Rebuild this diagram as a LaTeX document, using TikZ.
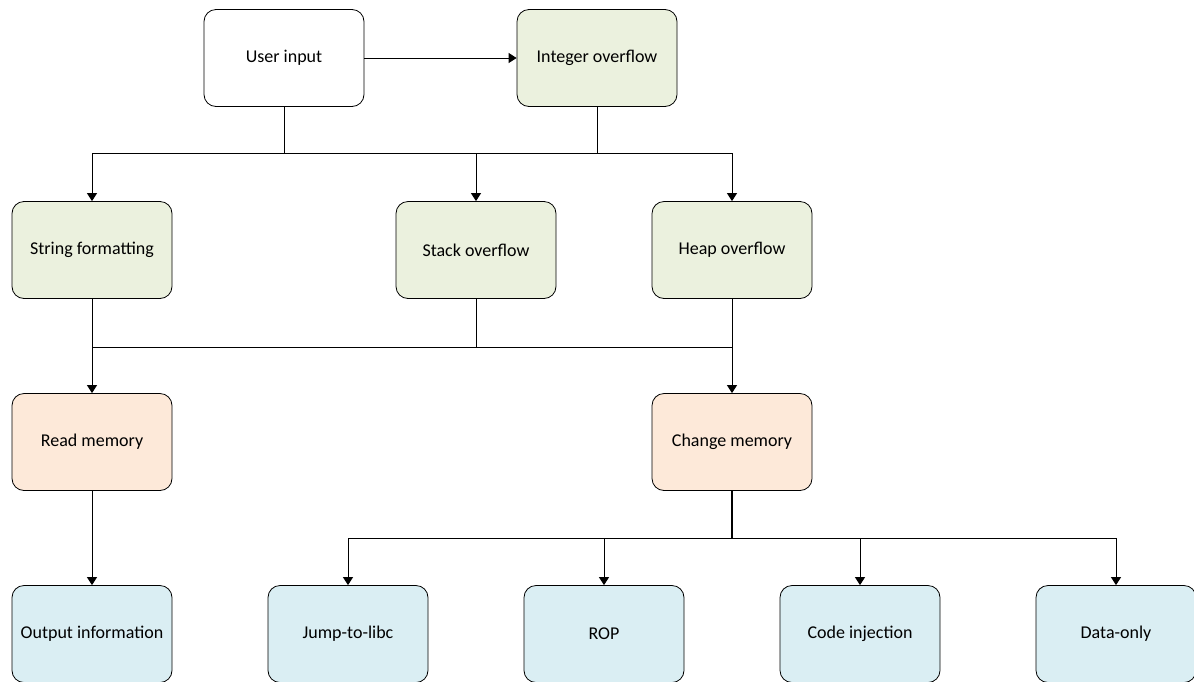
\documentclass[tikz,border=0pt]{standalone}
\usepackage{fontspec}
\setmainfont{Carlito}
\usetikzlibrary{arrows.meta}
\definecolor{boxgreen}{HTML}{EBF1DE}
\definecolor{boxorange}{HTML}{FDE9D9}
\definecolor{boxblue}{HTML}{DAEEF3}
\begin{document}
\begin{tikzpicture}[x=1pt,y=-1pt,
  box/.style={draw=black, line width=0.8pt, rounded corners=12pt,
    minimum width=160pt, minimum height=97pt, inner sep=0pt,
    font=\fontsize{18}{21}\selectfont},
  vuln/.style={box, fill=boxgreen},
  effect/.style={box, fill=boxorange},
  attack/.style={box, fill=boxblue},
  link/.style={draw=black, line width=0.9pt},
  arr/.style={link, -{Triangle[length=8pt,width=10pt]}}]
\useasboundingbox (0,0) rectangle (1194,681);

% boxes
\node[box, fill=white] (user)  at (284,58)  {User input};
\node[vuln]   (intov)  at (597,58)  {Integer overflow};
\node[vuln]   (strf)   at (92,250)  {String formatting};
\node[vuln]   (stack)  at (476,250) {Stack overflow};
\node[vuln]   (heap)   at (732,250) {Heap overflow};
\node[effect] (read)   at (92,442)  {Read memory};
\node[effect] (change) at (732,442) {Change memory};
\node[attack] (out)    at (92,634)  {Output information};
\node[attack] (jump)   at (348,634) {Jump-to-libc};
\node[attack] (rop)    at (604,634) {ROP};
\node[attack] (code)   at (860,634) {Code injection};
\node[attack] (data)   at (1116,634) {Data-only};

% bus levels
\coordinate (b1) at (0,153);
\coordinate (b2) at (0,347);
\coordinate (b3) at (0,538);

% input -> vulnerabilities
\draw[arr] (user.east) -- (intov.west);
\draw[link] (user.south) -- (user.south |- b1);
\draw[link] (intov.south) -- (intov.south |- b1);
\draw[link] (strf.north |- b1) -- (heap.north |- b1);
\draw[arr] (strf.north |- b1) -- (strf.north);
\draw[arr] (stack.north |- b1) -- (stack.north);
\draw[arr] (heap.north |- b1) -- (heap.north);

% vulnerabilities -> memory effects
\draw[arr] (strf.south) -- (read.north);
\draw[arr] (heap.south) -- (change.north);
\draw[link] (stack.south) -- (stack.south |- b2);
\draw[link] (strf.south |- b2) -- (heap.south |- b2);

% memory effects -> attacks
\draw[arr] (read.south) -- (out.north);
\draw[link, line width=1.4pt] (change.south) -- (change.south |- b3);
\draw[link] (jump.north |- b3) -- (data.north |- b3);
\draw[arr] (jump.north |- b3) -- (jump.north);
\draw[arr] (rop.north |- b3) -- (rop.north);
\draw[arr] (code.north |- b3) -- (code.north);
\draw[arr] (data.north |- b3) -- (data.north);
\end{tikzpicture}
\end{document}
